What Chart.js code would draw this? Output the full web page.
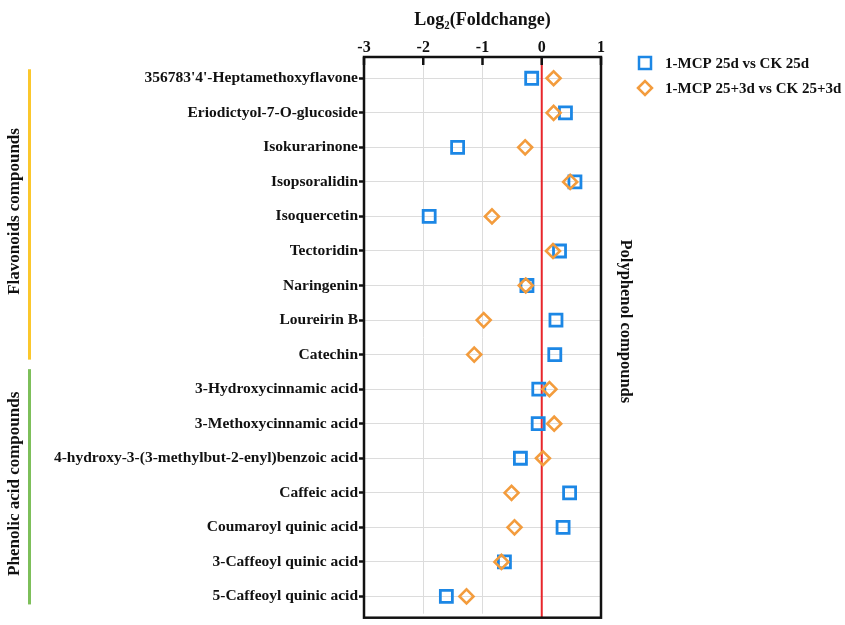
<!DOCTYPE html>
<html>
<head>
<meta charset="utf-8">
<script src="https://cdn.jsdelivr.net/npm/chart.js@4/dist/chart.umd.min.js"></script>
<style>
  html, body { margin: 0; padding: 0; background: #fff; }
  #wrap { width: 845px; height: 625px; position: relative; }
</style>
</head>
<body>
<div id="wrap"><canvas id="myChart"></canvas></div>
<script>
// compuestos (de arriba hacia abajo)
var compounds = [
  "356783'4'-Heptamethoxyflavone",
  "Eriodictyol-7-O-glucoside",
  "Isokurarinone",
  "Isopsoralidin",
  "Isoquercetin",
  "Tectoridin",
  "Naringenin",
  "Loureirin B",
  "Catechin",
  "3-Hydroxycinnamic acid",
  "3-Methoxycinnamic acid",
  "4-hydroxy-3-(3-methylbut-2-enyl)benzoic acid",
  "Caffeic acid",
  "Coumaroyl quinic acid",
  "3-Caffeoyl quinic acid",
  "5-Caffeoyl quinic acid"
];
var mcp25 = [-0.17, 0.40, -1.42, 0.56, -1.90, 0.30, -0.25, 0.24, 0.22, -0.05, -0.06, -0.36, 0.47, 0.36, -0.63, -1.61];
var mcp25_3 = [0.20, 0.20, -0.28, 0.48, -0.84, 0.19, -0.27, -0.98, -1.14, 0.13, 0.21, 0.02, -0.51, -0.46, -0.68, -1.27];
var seriesNames = ["1-MCP 25d vs CK 25d", "1-MCP 25+3d vs CK 25+3d"];
var xTicks = [-3, -2, -1, 0, 1];

var groups = [
  { name: "Flavonoids compounds", first: 0, last: 8, color: "#fbc72c" },
  { name: "Phenolic acid compounds", first: 9, last: 15, color: "#7dbf5a" }
];

const FONT = "'Liberation Serif', 'Times New Roman', serif";
const blue = "#1c87e5";
const orange = "#f39c3d";

function toPoints(vals) {
  return vals.map((v, i) => ({ x: v, y: compounds[i] }));
}

// bordes, linea roja, marcas internas, leyenda y grupos
const extras = {
  id: "extras",
  beforeDatasetsDraw(chart) {
    const ctx = chart.ctx;
    const a = chart.chartArea;
    const x = chart.scales.x;
    ctx.save();
    ctx.strokeStyle = "#e8262b";
    ctx.lineWidth = 2;
    const x0 = x.getPixelForValue(0);
    ctx.beginPath();
    ctx.moveTo(x0, a.top - 4);
    ctx.lineTo(x0, a.bottom + 4);
    ctx.stroke();
    ctx.restore();
  },
  afterDraw(chart) {
    const ctx = chart.ctx;
    const a = chart.chartArea;
    const x = chart.scales.x;
    const y = chart.scales.y;
    ctx.save();

    // marco
    ctx.strokeStyle = "#111";
    ctx.lineWidth = 2.5;
    ctx.strokeRect(a.left, a.top - 4, a.right - a.left, a.bottom - a.top + 8);

    // marcas hacia adentro
    xTicks.forEach(function (t) {
      const px = x.getPixelForValue(t);
      ctx.beginPath();
      ctx.moveTo(px, a.top - 4);
      ctx.lineTo(px, a.top + 4);
      ctx.stroke();
    });

    // leyenda
    ctx.font = "bold 15px " + FONT;
    ctx.textBaseline = "middle";
    ctx.fillStyle = "#111";
    chart.data.datasets.forEach(function (ds, i) {
      const lx = 645, ly = 63 + i * 25;
      ctx.strokeStyle = ds.borderColor;
      ctx.lineWidth = 2.5;
      ctx.beginPath();
      if (ds.pointStyle === "rect") {
        ctx.rect(lx - 6, ly - 6, 12, 12);
      } else {
        ctx.moveTo(lx - 7, ly);
        ctx.lineTo(lx, ly - 7);
        ctx.lineTo(lx + 7, ly);
        ctx.lineTo(lx, ly + 7);
        ctx.closePath();
      }
      ctx.stroke();
      ctx.fillStyle = "#111";
      ctx.textAlign = "left";
      ctx.fillText(ds.label, 665, ly + 1);
    });

    // grupos a la izquierda
    ctx.font = "bold 17px " + FONT;
    groups.forEach(function (g, i) {
      const top = y.getPixelForValue(g.first) - (i === 0 ? 9 : 20);
      const bottom = y.getPixelForValue(g.last) + (i === 0 ? 5 : 8);
      ctx.fillStyle = g.color;
      ctx.fillRect(28, top, 3, bottom - top);
      ctx.save();
      ctx.translate(15, (top + bottom) / 2 - 3);
      ctx.rotate(-Math.PI / 2);
      ctx.fillStyle = "#111";
      ctx.textAlign = "center";
      ctx.textBaseline = "middle";
      ctx.fillText(g.name, 0, 0);
      ctx.restore();
    });

    // titulo a la derecha
    ctx.save();
    ctx.font = "bold 16.5px " + FONT;
    ctx.translate(a.right + 24, (a.top + a.bottom) / 2 - 16);
    ctx.rotate(Math.PI / 2);
    ctx.fillStyle = "#111";
    ctx.textAlign = "center";
    ctx.textBaseline = "middle";
    ctx.fillText("Polyphenol compounds", 0, 0);
    ctx.restore();

    ctx.restore();
  }
};

const config = {
  type: "scatter",
  data: {
    datasets: [
      {
        label: seriesNames[0],
        data: toPoints(mcp25),
        pointStyle: "rect",
        pointRadius: 8.5,
        pointHoverRadius: 8.5,
        borderColor: blue,
        backgroundColor: "rgba(0,0,0,0)",
        pointBorderWidth: 2.8,
        order: 1
      },
      {
        label: seriesNames[1],
        data: toPoints(mcp25_3),
        pointStyle: "rectRot",
        pointRadius: 7,
        pointHoverRadius: 7,
        borderColor: orange,
        backgroundColor: "rgba(0,0,0,0)",
        pointBorderWidth: 2.6,
        order: 0
      }
    ]
  },
  options: {
    responsive: false,
    animation: false,
    layout: { padding: { left: 0, right: 244, top: 0, bottom: 11 } },
    plugins: {
      legend: { display: false },
      tooltip: { enabled: false }
    },
    scales: {
      x: {
        type: "linear",
        position: "top",
        min: -3,
        max: 1,
        afterBuildTicks: function (scale) {
          scale.ticks = xTicks.map(v => ({ value: v }));
        },
        afterFit: function (scale) { scale.height = 61; },
        ticks: {
          color: "#111",
          padding: 4,
          font: { family: FONT, size: 16, weight: "bold" }
        },
        grid: {
          color: (c) => (c.tick && c.tick.value === 0 ? "rgba(0,0,0,0)" : "#dcdcdc"),
          drawTicks: false
        },
        border: { display: false },
        title: {
          display: true,
          text: "Log\u2082(Foldchange)",
          color: "#111",
          padding: { top: 10, bottom: 0 },
          font: { family: FONT, size: 18, weight: "bold" }
        }
      },
      y: {
        type: "category",
        labels: compounds,
        offset: true,
        afterFit: function (scale) { scale.width = 364; },
        ticks: {
          color: "#111",
          padding: 1,
          autoSkip: false,
          font: { family: FONT, size: 15.5, weight: "bold" }
        },
        grid: {
          offset: false,
          color: "#dcdcdc",
          tickColor: "#111",
          tickLength: 5,
          tickWidth: 2.5
        },
        border: { display: false }
      }
    }
  },
  plugins: [extras]
};

const canvas = document.getElementById("myChart");
canvas.width = 845;
canvas.height = 625;
new Chart(canvas, config);
</script>
</body>
</html>
